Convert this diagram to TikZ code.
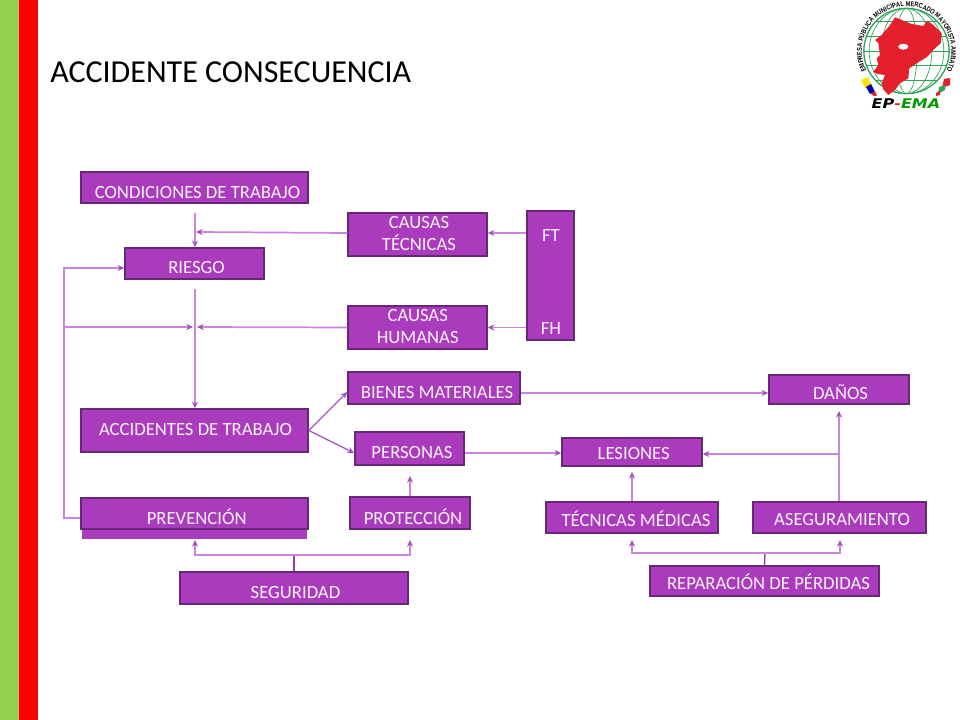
\documentclass[tikz,border=0pt]{standalone}
\usepackage{fontspec}
\setmainfont{Carlito}
\newfontfamily\logofont[FakeStretch=0.82]{Liberation Sans}
\newfontfamily\logomark{DejaVu Sans}
\usetikzlibrary{arrows.meta,decorations.text,calc}
\definecolor{boxfill}{HTML}{AB3BBD}
\definecolor{boxline}{HTML}{682878}
\definecolor{conn}{HTML}{CC85DC}
\definecolor{tipc}{HTML}{A14FBC}
\definecolor{darkconn}{HTML}{8E3AA6}
\definecolor{globe}{HTML}{2FA55A}
\definecolor{logored}{HTML}{E3202B}
\definecolor{barg}{RGB}{146,208,80}
\tikzset{
  x=0.75pt,y=-0.75pt,
  box/.style={draw=boxline,line width=1.5pt,fill=boxfill,inner sep=0pt,rectangle},
  w/.style={minimum width={(#1-0.5)*0.75pt}},
  h/.style={minimum height={(#1-0.5)*0.75pt}},
  lab/.style={text=white!94!boxfill,font=\fontsize{14}{16.5}\selectfont,align=center,inner sep=0pt},
  conline/.style={draw=conn,line width=1.3pt},
  arr/.style={conline,-{Stealth[length=5pt,width=4.5pt,color=tipc]}},
}
\begin{document}
\begin{tikzpicture}
\useasboundingbox (0,0) rectangle (960,720);
\fill[white] (0,0) rectangle (960,720);
\fill[barg] (0,0) rectangle (19,720);
\fill[red] (19,0) rectangle (38,720);
\node[anchor=west,inner sep=0pt,font=\fontsize{24}{28}\selectfont] (title) at (50,72) {ACCIDENTE CONSECUENCIA};

% logo
\coordinate (lc) at (906.5,51);
\begin{scope}
\draw[globe,line width=1pt] (lc) circle (32pt);
\clip (lc) circle (32pt);
\foreach \r in {8,19,28}{\draw[globe,line width=.5pt] (lc) ellipse (\r pt and 32pt);}
\foreach \d in {-22,-11,0,11,22}{\draw[globe,line width=.5pt] ($(lc)+(-33pt,\d pt)$) -- ($(lc)+(33pt,\d pt)$);}
\end{scope}
\fill[logored] (895,17.3) -- (911.7,24) -- (923.3,26) -- (927.3,20.7) -- (933.3,25) -- (941.7,33.3) -- (940.7,43.3) -- (935,48.3) -- (927.3,56.7) -- (916.7,63.3) -- (909.3,68.3) -- (908.3,78.3) -- (900,83.3) -- (895,90) -- (888.3,95) -- (883.3,89.3) -- (881.7,83.3) -- (885,75) -- (877.3,74) -- (873.3,71.7) -- (878.3,65) -- (876.7,58.3) -- (880,55) -- (878.3,43.3) -- (875,40) -- (881.7,35) -- (890,25) -- cycle;
\fill[white] (903.3,46.7) ellipse (3.8pt and 2.2pt);
\path[decorate,decoration={text along path,text align=center,text={|\logofont\bfseries\fontsize{5.2}{6}\selectfont|EMPRESA PÚBLICA MUNICIPAL MERCADO MAYORISTA AMBATO}}]
  ($(lc)+(222:33.5pt)$) arc[start angle=222,end angle=-42,radius=33.5pt];
\fill[yellow!85!orange] (861,80) -- (868,77) -- (871,85) -- (865,88) -- cycle;
\fill[blue!70!black] (866,87) -- (871,84) -- (875,92) -- (870,94) -- cycle;
\fill[logored] (871,94) -- (875,91) -- (877,96) -- (874,96) -- cycle;
\fill[logored] (944,79) -- (950,78) -- (950,85) -- (942,88) -- cycle;
\fill[globe] (939,87) -- (945,85) -- (945,90) -- (938,94) -- cycle;
\fill[logored] (936,93) -- (940,91) -- (940,95) -- (936,96) -- cycle;
\node[inner sep=0pt,xscale=1.2,font=\logomark\bfseries\itshape\fontsize{10}{10}\selectfont] (logotext) at (906,103.5) {\textcolor{black}{EP}\textcolor{logored}{-}\textcolor{green!60!black}{EMA}};

% boxes
\node[box,w=227,h=31] (cond) at (194.5,187.5) {};
\node[lab] (lcond) at (197.5,192.5) {CONDICIONES DE TRABAJO};
\node[box,w=139,h=31] (riesgo) at (194.5,263.5) {};
\node[lab] (lriesgo) at (196.5,267.5) {RIESGO};
\node[box,w=139,h=43] (ctec) at (417.5,234.5) {};
\node[lab] (lctec) at (419,234) {CAUSAS\\TÉCNICAS};
\node[box,w=139,h=43] (chum) at (417.5,327.5) {};
\node[lab] (lchum) at (417.7,326.5) {CAUSAS\\HUMANAS};
\node[box,w=47,h=129] (ff) at (550.5,275.5) {};
\node[lab] (lft) at (551,235.5) {FT};
\node[lab] (lfh) at (551,328.5) {FH};
\node[box,w=172,h=32] (bienes) at (434,388) {};
\node[lab] (lbienes) at (437,392.5) {BIENES MATERIALES};
\node[box,w=227,h=43] (acc) at (194.5,430.5) {};
\node[lab] (lacc) at (195.5,430) {ACCIDENTES DE TRABAJO};
\node[box,w=109,h=33] (pers) at (409.5,448.5) {};
\node[lab] (lpers) at (412,453) {PERSONAS};
\fill[boxfill] (82,529) rectangle (307,539);
\node[box,w=227,h=31] (prev) at (194.5,513.5) {};
\node[lab] (lprev) at (196.7,516.5) {PREVENCIÓN};
\node[box,w=120,h=32] (prot) at (410,513) {};
\node[lab] (lprot) at (413,516.5) {PROTECCIÓN};
\node[box,w=228,h=32] (seg) at (294,588) {};
\node[lab] (lseg) at (295.5,592.5) {SEGURIDAD};
\node[box,w=140,h=29] (danos) at (839,389.5) {};
\node[lab] (ldanos) at (840.5,392.5) {DAÑOS};
\node[box,w=140,h=28] (les) at (632,452) {};
\node[lab] (lles) at (633.7,453.5) {LESIONES};
\node[box,w=172,h=31] (tec) at (632,517.5) {};
\node[lab] (ltec) at (636,519) {TÉCNICAS MÉDICAS};
\node[box,w=173,h=31] (aseg) at (839.5,517.5) {};
\node[lab] (laseg) at (842,520) {ASEGURAMIENTO};
\node[box,w=229,h=30] (rep) at (764.5,581) {};
\node[lab] (lrep) at (768.5,582) {REPARACIÓN DE PÉRDIDAS};

% free ends and junctions
\coordinate (a1) at (195,213);
\coordinate (a2) at (196,232);
\coordinate (b1) at (195,289);
\coordinate (b2) at (193,327);
\coordinate (b3) at (197,327);
\coordinate (l1) at (64,327);
\coordinate (ps) at (410,476);
\coordinate (ps2) at (410,540);
\coordinate (pv) at (195,540);
\coordinate (j1) at (294,555);
\coordinate (dn) at (839,411);
\coordinate (jd) at (839,454);
\coordinate (lt) at (632,472);
\coordinate (te) at (632,540);
\coordinate (as) at (840,540);
\coordinate (j2) at (765,553);

% connectors
\draw[arr] (a1) -- (a1 |- riesgo.north);
\draw[arr] (ctec.west |- 0,233) -- (a2);
\draw[arr] (b1) -- (b1 |- acc.north);
\draw[arr] (chum.west) -- (b3);
\draw[arr] (l1) -- (b2);
\draw[arr] (prev.west |- 0,518) -| (l1) |- (riesgo.west |- 0,268);
\draw[arr] (ff.west |- 0,233) -- (ctec.east |- 0,233);
\draw[arr] (ff.west |- chum.east) -- (chum.east);
\draw[arr,line width=1pt,draw=darkconn!60!conn] (acc.east) -- (bienes.west |- 0,392);
\draw[arr,line width=1pt,draw=darkconn!60!conn] (acc.east) -- (pers.west |- 0,453);
\draw[arr] (bienes.east |- 0,393) -- (danos.west |- 0,393);
\draw[arr] (pers.east |- 0,453) -- (les.west |- 0,453);
\draw[arr] (aseg.north -| dn) -- (dn);
\draw[arr] (jd) -- (les.east |- jd);
\draw[arr] (tec.north) -- (lt);
\draw[arr] (prot.north) -- (ps);
\draw[conline,draw=darkconn] (seg.north) -- (j1);
\draw[arr] (j1) -| (pv);
\draw[arr] (j1) -| (ps2);
\draw[conline,line width=1pt,draw=darkconn] (rep.north) -- (j2);
\draw[arr] (j2) -| (te);
\draw[arr] (j2) -| (as);
\end{tikzpicture}
\end{document}
